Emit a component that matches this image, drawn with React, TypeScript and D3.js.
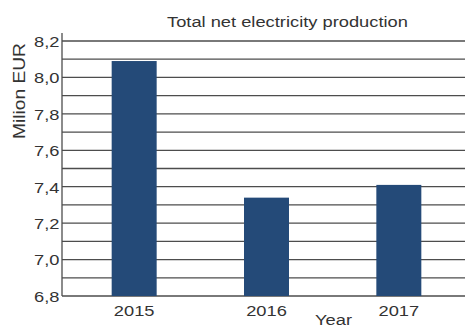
import React from "react";
import * as d3 from "d3";

const years = ["2015", "2016", "2017"];
const values = [8.09, 7.34, 7.41];
const yTickLabels = [6.8, 7.0, 7.2, 7.4, 7.6, 7.8, 8.0, 8.2];
const gridValues = [6.8, 6.9, 7.0, 7.1, 7.2, 7.3, 7.4, 7.5, 7.6, 7.7, 7.8, 7.9, 8.0, 8.1, 8.2];
const title = "Total net electricity production";
const yTitle = "Milion EUR";
const xTitle = "Year";

const W = 465;
const H = 327;
const SX = 1.22;
const FONT = "'Liberation Sans', Arial, sans-serif";
const TEXT = "#333";

export default function App() {
  const y = d3.scaleLinear().domain([6.8, 8.2]).range([296, 41]);
  const x = d3
    .scaleBand<string>()
    .domain(years)
    .range([68, 465])
    .paddingInner(0.66)
    .paddingOuter(0.33);
  const fmt = (v: number) => d3.format(".1f")(v).replace(".", ",");
  const axisX = 62;

  return (
    <svg
      width={W}
      height={H}
      style={{ position: "absolute", left: 0, top: 0, background: "#fff" }}
      fontFamily={FONT}
    >
      <rect x={0} y={0} width={W} height={H} fill="#fff" />
      {gridValues.map((g) => (
        <line
          key={g}
          x1={axisX}
          x2={W}
          y1={y(g)}
          y2={y(g)}
          stroke="#4d4d4d"
          strokeWidth={1.3}
        />
      ))}
      <line x1={axisX} x2={axisX} y1={33} y2={y(6.8)} stroke="#4d4d4d" strokeWidth={1.3} />
      {years.map((yr, i) => (
        <rect
          key={yr}
          x={x(yr)}
          y={y(values[i])}
          width={x.bandwidth()}
          height={y(6.8) - y(values[i])}
          fill="#244a78"
        />
      ))}
      {yTickLabels.map((t) => (
        <g key={t} transform={`translate(59.5, ${y(t) + 5.8}) scale(${SX},1)`}>
          <text textAnchor="end" fontSize={15} fill={TEXT}>
            {fmt(t)}
          </text>
        </g>
      ))}
      {years.map((yr) => (
        <g key={yr} transform={`translate(${(x(yr) as number) + x.bandwidth() / 2}, 315.5) scale(${SX},1)`}>
          <text textAnchor="middle" fontSize={15} fill={TEXT}>
            {yr}
          </text>
        </g>
      ))}
      <g transform={`translate(333.5, 324.5) scale(${SX},1)`}>
        <text textAnchor="middle" fontSize={15} fill={TEXT}>
          {xTitle}
        </text>
      </g>
      <g transform={`translate(167, 26.5) scale(${SX},1)`}>
        <text textAnchor="start" fontSize={15} fill={TEXT}>
          {title}
        </text>
      </g>
      <text
        transform="translate(25, 91) rotate(-90)"
        textAnchor="middle"
        fontSize={17}
        fill={TEXT}
        textLength={96}
        lengthAdjust="spacingAndGlyphs"
      >
        {yTitle}
      </text>
    </svg>
  );
}
